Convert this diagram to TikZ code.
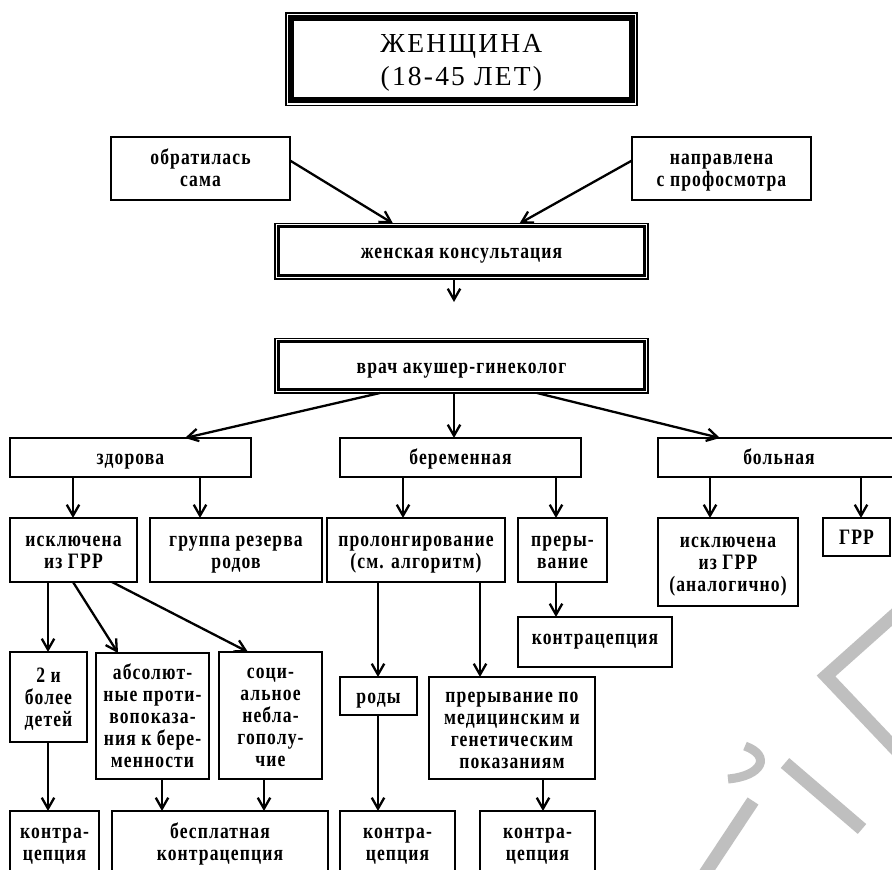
\documentclass[tikz,border=0pt]{standalone}
\usepackage{fontspec}
\setmainfont{Liberation Serif}
\newfontfamily\tfont[LetterSpace=8]{Liberation Serif}
\newfontfamily\bfont[LetterSpace=5,FakeStretch=0.8]{Liberation Serif}
\usetikzlibrary{arrows.meta}
\newcommand\topst[1]{\rule{0pt}{#1}}
\newcommand\botst[1]{\rule[-#1]{0pt}{0pt}}
\def\bxtop{21.4pt}\def\bxbot{6.6pt}
\newcommand\bx[7][box]{%
  \pgfmathsetmacro\bxw{#5-#3}\pgfmathsetmacro\bxh{#6-#4}%
  \pgfmathsetmacro\bxcx{(#3+#5)/2}\pgfmathsetmacro\bxcy{(#4+#6)/2}%
  \node[#1, minimum width=\bxw pt, minimum height=\bxh pt] (#2) at (\bxcx,\bxcy) {\topst{\bxtop}#7\botst{\bxbot}};}
\begin{document}
\begin{tikzpicture}[x=1pt,y=-1pt,
  box/.style={draw, line width=1.8pt, inner sep=0pt, outer sep=0pt, align=center,
    font=\bfont\bfseries\fontsize{22}{22}\selectfont},
  dbox/.style={box, line width=1.7pt},
  tbox/.style={draw, line width=1.5pt, inner sep=0pt, outer sep=0pt, align=center,
    font=\tfont\fontsize{27.5}{33}\selectfont},
  arr/.style={line width=2.3pt, -{Straight Barb[length=11pt,width=12.5pt]}},
  wmk/.style={line width=13pt, draw=black!25, line join=miter},
]
\useasboundingbox (0,0) rectangle (892,870);
\clip (0,0) rectangle (892,870);
\fill[white] (0,0) rectangle (892,870);

% watermark (partial letters)
\draw[wmk] (900,610) -- (826,676) -- (900,754);
\draw[wmk, line width=9pt] (745,746) .. controls (772,756) and (762,776) .. (728,779);
\draw[wmk] (785,763) -- (862,829);
\draw[wmk] (753,801) -- (704,875);

% nodes
\node[tbox, minimum width=351.2pt, minimum height=92.5pt] (title) at (461.4,59.25)
  {\topst{29.1pt}ЖЕНЩИНА\\(18-45 ЛЕТ)\botst{9.9pt}};
\draw[line width=6.3pt] ([xshift=5.2pt,yshift=-5.2pt]title.north west) rectangle ([xshift=-5.2pt,yshift=5.2pt]title.south east);

\bx{obr}{111}{137}{290}{200}{обратилась\\сама}
\bx{napr}{632}{137}{811}{200}{направлена\\с профосмотра}

\bx[dbox]{zk}{275}{223.5}{648}{279}{женская консультация}
\draw[line width=3pt] ([xshift=3.4pt,yshift=-3.4pt]zk.north west) rectangle ([xshift=-3.4pt,yshift=3.4pt]zk.south east);
\coordinate (zkend) at (454,302);

\bx[dbox]{vrach}{275}{338.5}{648}{393}{врач акушер-гинеколог}
\draw[line width=3pt] ([xshift=3.4pt,yshift=-3.4pt]vrach.north west) rectangle ([xshift=-3.4pt,yshift=3.4pt]vrach.south east);

\bx{zd}{10}{438}{251}{477}{здорова}
\bx{ber}{340}{438}{581}{477}{беременная}
\bx{bol}{658}{438}{900}{477}{больная}

\bx{isk}{10}{518}{137}{582}{исключена\\из ГРР}
\bx{grp}{150}{518}{322}{582}{группа резерва\\родов}
\bx{prol}{327}{518}{505}{582}{пролонгирование\\(см. алгоритм)}
\bx{prer}{518}{518}{607}{582}{преры-\\вание}
\bx{iska}{658}{518}{798}{606}{исключена\\из ГРР\\(аналогично)}
\bx{grr}{823}{518}{890}{556}{ГРР}

{\def\bxtop{11.4pt}\bx{kpr}{518}{617}{672}{667}{контрацепция}}
\bx{dva}{10}{652}{87}{742}{2 и\\более\\детей}
\bx{abs}{96}{653}{209}{779}{абсолют-\\ные проти-\\вопоказа-\\ния к бере-\\менности}
\bx{soc}{219}{652}{322}{779}{соци-\\альное\\небла-\\гополу-\\чие}
\bx{rody}{340}{677}{417}{715}{роды}
\bx{prm}{429}{677}{595}{779}{прерывание по\\медицинским и\\генетическим\\показаниям}

\bx{ka}{10}{811}{99}{874}{контра-\\цепция}
\bx{kb}{112}{811}{328}{874}{бесплатная\\контрацепция}
\bx{kc}{340}{811}{455}{874}{контра-\\цепция}
\bx{kd}{480}{811}{595}{874}{контра-\\цепция}

% connectors
\draw[arr] ([yshift=8pt]obr.east) -- ([xshift=-68.5pt]zk.north);
\draw[arr] ([yshift=8pt]napr.west) -- ([xshift=58pt]zk.north);
\draw[arr] (zk.south -| zkend) -- (zkend);

\draw[arr] ([xshift=-81.5pt]vrach.south) -- ([xshift=54.5pt]zd.north);
\draw[arr] (vrach.south -| 454,0) -- (ber.north -| 454,0);
\draw[arr] ([xshift=75.5pt]vrach.south) -- ([xshift=-59pt]bol.north);

\draw[arr] (zd.south -| 73,0) -- (isk.north -| 73,0);
\draw[arr] (zd.south -| 200,0) -- (grp.north -| 200,0);
\draw[arr] (ber.south -| 403,0) -- (prol.north -| 403,0);
\draw[arr] (ber.south -| 556,0) -- (prer.north -| 556,0);
\draw[arr] (bol.south -| 710,0) -- (iska.north -| 710,0);
\draw[arr] (bol.south -| 861,0) -- (grr.north -| 861,0);

\draw[arr] (isk.south -| 48,0) -- (dva.north -| 48,0);
\draw[arr] (isk.south -| 73,0) -- ([xshift=-34.5pt]abs.north);
\draw[arr] (isk.south -| 112,0) -- ([xshift=-22.5pt]soc.north);
\draw[arr] (prol.south -| 378,0) -- (rody.north -| 378,0);
\draw[arr] (prol.south -| 480,0) -- (prm.north -| 480,0);
\draw[arr] (prer.south -| 556,0) -- (kpr.north -| 556,0);

\draw[arr] (dva.south -| 48,0) -- (ka.north -| 48,0);
\draw[arr] (abs.south -| 162,0) -- (kb.north -| 162,0);
\draw[arr] (soc.south -| 264,0) -- (kb.north -| 264,0);
\draw[arr] (rody.south -| 378,0) -- (kc.north -| 378,0);
\draw[arr] (prm.south -| 543,0) -- (kd.north -| 543,0);
\end{tikzpicture}
\end{document}
